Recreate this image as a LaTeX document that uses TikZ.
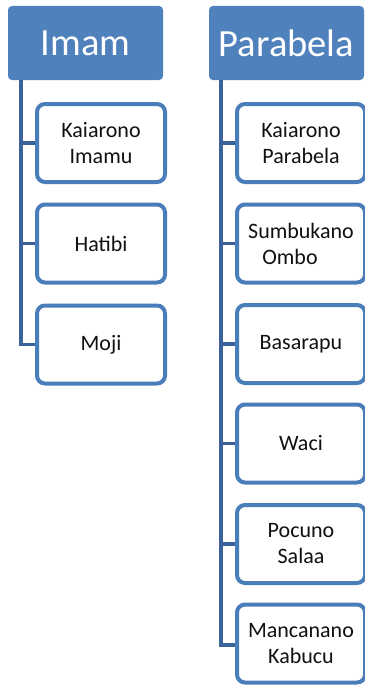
\documentclass[tikz,border=0pt]{standalone}
\usepackage{fontspec}
\setmainfont{Carlito}
\definecolor{hdr}{HTML}{4F81BD}
\definecolor{bord}{HTML}{4A7EBB}
\definecolor{conn}{HTML}{3A6399}
\definecolor{txt}{HTML}{111111}
\tikzset{
  header/.style={fill=hdr, rounded corners=4pt, minimum width=155pt, minimum height=74pt, inner sep=0pt, text=white, font=\fontsize{38.5}{40}\selectfont},
  child/.style={draw=bord, line width=4pt, fill=white, rounded corners=8pt, minimum width=128pt, minimum height=78pt, inner sep=0pt, align=center, text=txt, font=\fontsize{22}{26}\selectfont},
  conline/.style={draw=conn, line width=3.5pt}
}
\begin{document}
\begin{tikzpicture}[x=1pt,y=-1pt]
\useasboundingbox (0,0) rectangle (364,685);
% headers
\node[header] (imam) at (85.5,43) {Imam};
\node[header] (para) at (286.5,43) {Parabela};
% spine coordinates
\coordinate (is) at (21,80);
\coordinate (ie) at (21,344.5);
\coordinate (ps) at (221,80);
\coordinate (pe) at (221,645);
\draw[conline] (is) -- (ie) -- ++(16,0);
\draw[conline] (ps) -- (pe) -- ++(16,0);
% Imam children
\node[child] (i1) at (101,143) {Kaiarono\\Imamu};
\node[child] (i2) at (101,243.5) {Hatibi};
\node[child] (i3) at (101,344.5) {Moji};
\draw[conline] (21,143) -- (i1.west);
\draw[conline] (21,243.5) -- (i2.west);
% Parabela children
\node[child] (p1) at (301,143) {Kaiarono\\Parabela};
\node[child] (p2) at (301,243.5) {Sumbukano\\Ombo\hspace*{22pt}};
\node[child] (p3) at (301,344) {Basarapu};
\node[child] (p4) at (301,443.5) {Waci};
\node[child] (p5) at (301,544) {Pocuno\\Salaa};
\node[child] (p6) at (301,643.5) {Mancanano\\Kabucu};
\draw[conline] (221,143) -- (p1.west);
\draw[conline] (221,243.5) -- (p2.west);
\draw[conline] (221,344) -- (p3.west);
\draw[conline] (221,443.5) -- (p4.west);
\draw[conline] (221,544) -- (p5.west);
\end{tikzpicture}
\end{document}
